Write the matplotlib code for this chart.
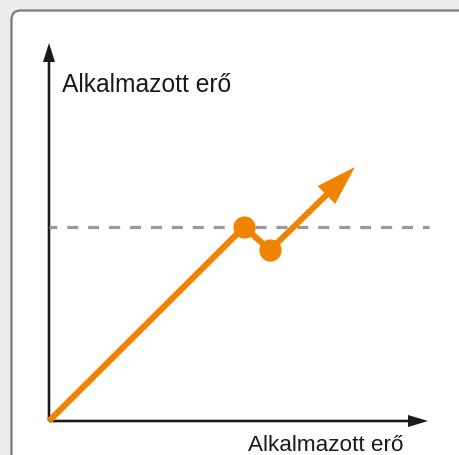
import matplotlib
matplotlib.use("Agg")
import matplotlib.pyplot as plt
from matplotlib.patches import FancyBboxPatch

# force curve: applied force rises, drops briefly, then keeps rising
force_x = [0, 195, 221, 306]
force_y = [0, 194, 171, 254]
threshold = 194
axis_label = "Alkalmazott erő"

orange = "#f08300"
ink = "#1a1a1a"

fig = plt.figure(figsize=(4.59, 4.56), dpi=100)
fig.patch.set_facecolor("#ececec")

# white card with a rounded grey border
card = FancyBboxPatch((11.5 / 459, -0.1), 1.2, (456 - 11.5) / 456 + 0.1,
                      boxstyle="round,pad=0,rounding_size=0.02",
                      transform=fig.transFigure, facecolor="white",
                      edgecolor="#7a7a7a", linewidth=1.6, zorder=-1)
fig.patches.append(card)

# one data unit = one pixel, origin where the axes cross
ax = fig.add_axes([0, 0, 1, 1])
ax.set_xlim(-49, 410)
ax.set_ylim(-34, 422)
ax.axis("off")
ax.patch.set_alpha(0)

# axes as arrows
ax.arrow(0, 0, 379, 0, width=2.6, head_width=12, head_length=20,
         length_includes_head=True, color=ink, lw=0)
ax.arrow(0, 0, 0, 378, width=2.6, head_width=12, head_length=19,
         length_includes_head=True, color=ink, lw=0)

# dashed threshold line
ax.plot([0, 380], [threshold, threshold], color="#999999", lw=2.3,
        linestyle=(1.0, (3.45, 3.1)), zorder=2)

# orange curve with the two turning points marked
ax.plot(force_x[:3], force_y[:3], color=orange, lw=4.4, solid_capstyle="butt",
        zorder=3)
ax.plot(force_x[1:3], force_y[1:3], "o", color=orange, ms=15, zorder=4)
ax.arrow(force_x[2], force_y[2], force_x[3] - force_x[2], force_y[3] - force_y[2],
         width=6, head_width=25, head_length=40, length_includes_head=True,
         color=orange, lw=0, zorder=3)

ax.text(13, 330, axis_label, fontsize=17.7, family="Liberation Sans",
        color=ink, va="baseline", ha="left")
ax.text(354, -29, axis_label, fontsize=16.2, family="Liberation Sans",
        color=ink, va="baseline", ha="right")

fig.savefig("out.png", dpi=100)
